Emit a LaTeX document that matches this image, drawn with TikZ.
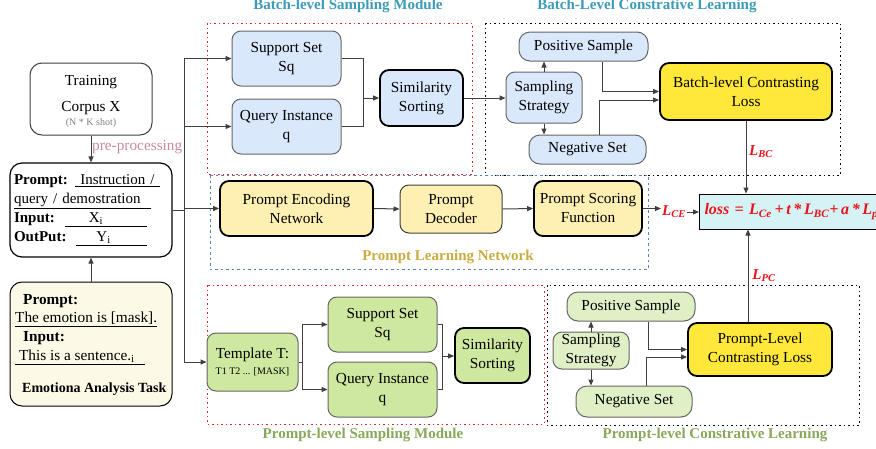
\documentclass[tikz,border=0pt]{standalone}
\usepackage{fontspec}
\setmainfont{Liberation Serif}
\usetikzlibrary{arrows.meta}
\definecolor{lnc}{HTML}{404040}
\definecolor{bordg}{HTML}{666666}
\definecolor{bluef}{HTML}{DAE8FC}
\definecolor{greenf}{HTML}{CFE8A0}
\definecolor{lgreenf}{HTML}{DFF0C6}
\definecolor{yelf}{HTML}{FFE83A}
\definecolor{pyelf}{HTML}{FDF0B2}
\definecolor{creamf}{HTML}{FDF9E7}
\definecolor{cyanf}{HTML}{D5F3F5}
\definecolor{lred}{HTML}{E8141C}
\definecolor{teal}{HTML}{3B9BB8}
\definecolor{gold}{HTML}{C9AD42}
\definecolor{olive}{HTML}{8AA85A}
\definecolor{pinkl}{HTML}{C98AA0}
\definecolor{dotred}{HTML}{E02828}
\definecolor{dotblue}{HTML}{5A82B8}
\begin{document}
\begin{tikzpicture}[x=1pt,y=-1pt,
  font=\fontsize{15.3}{19}\selectfont,
  ln/.style={draw=lnc, line width=1pt},
  arr/.style={ln, -{Triangle[length=6pt,width=5pt]}},
  bx/.style={draw=bordg, line width=1pt, rounded corners=9pt, align=center, inner sep=1pt},
  thk/.style={draw=black, line width=1.8pt},
  bluebox/.style={bx, fill=bluef},
  greenbox/.style={bx, fill=greenf},
  lgreenbox/.style={bx, fill=lgreenf},
  yelbox/.style={bx, fill=yelf, thk},
  pybox/.style={bx, fill=pyelf},
  redtitle/.style={text=lred, font=\fontsize{15}{17}\selectfont\bfseries\itshape},
  ttl/.style={font=\fontsize{15}{17}\selectfont\bfseries, anchor=base},
  reddot/.style={draw=dotred, line width=1pt, dash pattern=on 1.5pt off 3pt},
  blackdot/.style={draw=black, line width=1pt, dash pattern=on 1.5pt off 3pt},
  bluedot/.style={draw=dotblue, line width=1pt, dash pattern=on 2.5pt off 3pt},
  tx/.style={anchor=west, inner sep=0pt}
]
\useasboundingbox (0,0) rectangle (876,448);
\fill[white] (0,0) rectangle (876,448);

% group frames
\draw[reddot] (207,23) rectangle (472,174);
\draw[blackdot] (485,23) rectangle (840,175);
\draw[bluedot] (210,175) rectangle (648,269);
\draw[reddot] (207,285) rectangle (544,424);
\draw[blackdot] (547,285) rectangle (859,425);

% titles
\node[ttl, text=teal] (t1) at (348,9.5) {Batch-level Sampling Module};
\node[ttl, text=teal] (t2) at (647,9.5) {Batch-Level Constrative Learning};
\node[ttl, text=gold] (t3) at (448,260) {Prompt Learning Network};
\node[ttl, text=olive] (t4) at (363,438) {Prompt-level Sampling Module};
\node[ttl, text=olive] (t5) at (715,438) {Prompt-level Constrative Learning};

% left column
\node[draw=lnc, line width=1pt, fill=white, rounded corners=12pt, minimum width=122pt, minimum height=72pt] (train) at (91,99) {};
\node[inner sep=0pt] (tr1) at (91,82) {Training};
\node[inner sep=0pt] (tr2) at (91,108) {Corpus X};
\node[inner sep=0pt, text=gray, font=\fontsize{10}{11}\selectfont] (tr3) at (91,123) {(N * K shot)};
\node[draw=black, line width=1.2pt, rounded corners=12pt, minimum width=162pt, minimum height=94pt,
  text width=154pt, align=left, inner sep=4pt, font=\fontsize{15}{19}\selectfont] (prompt) at (91,210)
  {\textbf{Prompt:} \underline{\ Instruction /\ }\\
   \underline{query / demostration\ \ }\\
   \textbf{Input:}\ \ \underline{\hspace{24pt}X\textsubscript{i}\hspace{44pt}}\\
   \textbf{OutPut:}\ \ \underline{\hspace{20pt}Y\textsubscript{i}\hspace{36pt}}};
\node[draw=black, line width=1pt, fill=creamf, rounded corners=12pt, minimum width=162pt, minimum height=124pt] (emo) at (91,344) {};
\node[tx] (e1) at (23,301) {\bfseries Prompt:};
\node[tx] (e2) at (15,319) {\underline{The emotion is [mask].}};
\node[tx] (e3) at (23,338) {\bfseries Input:};
\node[tx] (e4) at (15,357) {\underline{\ This is a sentence.\textsubscript{i}\hspace{10pt}}};
\node[tx] (e5) at (22,389) {\fontsize{14}{16}\selectfont\bfseries Emotiona Analysis Task};
\node[tx, text=pinkl] (pp) at (92,147) {pre-processing};

\draw[arr] (train.south) -- (prompt.north);
\draw[arr] (emo.north) -- (prompt.south);

% batch-level sampling
\node[bluebox, minimum width=109pt, minimum height=55pt] (bss) at (286.5,58.5) {Support Set\\Sq};
\node[bluebox, minimum width=109pt, minimum height=55pt] (bqi) at (286.5,126.5) {Query Instance\\q};
\node[bluebox, thk, minimum width=83pt, minimum height=56pt] (bsim) at (421.5,98) {Similarity\\Sorting};

% batch-level contrastive
\node[bluebox, minimum width=129pt, minimum height=29pt, rounded corners=11pt] (bpos) at (583.5,46.5) {Positive Sample};
\node[bluebox, minimum width=76pt, minimum height=51pt] (bsamp) at (544,97.5) {Sampling\\Strategy};
\node[bluebox, minimum width=117pt, minimum height=29pt, rounded corners=11pt] (bneg) at (587.5,149.5) {Negative Set};
\node[yelbox, minimum width=172pt, minimum height=57pt] (bloss) at (746,91.5) {Batch-level Contrasting\\Loss};

% prompt learning network
\node[pybox, thk, minimum width=153pt, minimum height=55pt] (enc) at (296.5,208.5) {Prompt Encoding\\Network};
\node[pybox, draw=lnc, minimum width=102pt, minimum height=48pt] (dec) at (451,209) {Prompt\\Decoder};
\node[pybox, thk, minimum width=108pt, minimum height=55pt] (scor) at (588,208.5) {Prompt Scoring\\Function};
\node[redtitle, inner sep=1pt] (lce) at (674,212) {L\textsubscript{CE}};
\node[draw=black, line width=1pt, fill=cyanf, anchor=west, minimum height=35pt, text width=260pt, align=left,
  inner sep=5pt, text=lred, font=\fontsize{16}{18}\selectfont\bfseries\itshape] (loss) at (699,211.5)
  {loss = L\textsubscript{Ce}\,+\,t\,*\,L\textsubscript{BC}+\,a\,*\,L\textsubscript{pc}};

% prompt-level sampling
\node[greenbox, minimum width=91pt, minimum height=58pt] (tmpl) at (252.5,362)
  {Template T:\\[-3pt]{\fontsize{10}{12}\selectfont T1 T2 ... [MASK]}};
\node[greenbox, minimum width=109pt, minimum height=55pt] (psup) at (382.5,324.5) {Support Set\\Sq};
\node[greenbox, minimum width=109pt, minimum height=55pt] (pqi) at (382.5,389.5) {Query Instance\\q};
\node[greenbox, thk, minimum width=75pt, minimum height=55pt] (psim) at (492.5,355.5) {Similarity\\Sorting};

% prompt-level contrastive
\node[lgreenbox, minimum width=128pt, minimum height=29pt, rounded corners=11pt] (ppos) at (631,306.5) {Positive Sample};
\node[lgreenbox, minimum width=76pt, minimum height=37pt] (psamp) at (591,350.5) {Sampling\\Strategy};
\node[lgreenbox, minimum width=116pt, minimum height=31pt, rounded corners=11pt] (pneg) at (634,401.5) {Negative Set};
\node[yelbox, minimum width=144pt, minimum height=53pt] (ploss) at (760,349.5) {Prompt-Level\\Contrasting Loss};

% loss labels
\node[redtitle, inner sep=0pt] (lbc) at (761,152) {L\textsubscript{BC}};
\node[redtitle, inner sep=0pt] (lpc) at (764,276) {L\textsubscript{PC}};

% left fan-out
\coordinate (sp) at (184,210);
\coordinate (spt) at (184,58.5);
\coordinate (spb) at (184,362);
\draw[ln] (prompt.east) -- (sp);
\draw[ln] (spt) -- (spb);
\draw[arr] (spt) -- (bss.west);
\draw[arr] (sp |- bqi.west) -- (bqi.west);
\draw[arr] (sp |- enc.west) -- (enc.west);
\draw[arr] (spb) -- (tmpl.west);

% batch sampling connectors
\coordinate (bj) at (363,98);
\draw[ln] (bss.east) -| (bj);
\draw[ln] (bqi.east) -| (bj);
\draw[arr] (bj) -- (bsim.west);
\draw[arr] (bsim.east) -- (bsamp.west |- bsim.east);
\draw[arr] (bsamp.north) -- (bsamp.north |- bpos.south);
\draw[arr] (bsamp.south) -- (bsamp.south |- bneg.north);
\draw[arr] ([xshift=18.5pt]bpos.south) |- (bloss.west);
\draw[arr] ([xshift=11.5pt]bneg.north) |- ([yshift=-8.5pt]bloss.west);
\draw[arr] (bloss.south) -- (bloss.south |- loss.north);

% prompt network connectors
\draw[arr] (enc.east) -- (dec.west);
\draw[arr] (dec.east) -- (scor.west);
\draw[arr] (scor.east) -- (lce.west |- scor.east);
\draw[arr] (lce.east) -- (loss.west |- lce.east);

% prompt-level sampling connectors
\coordinate (tj) at (302,362);
\draw[ln] (tmpl.east) -- (tj);
\draw[arr] (tj) |- (psup.west);
\draw[arr] (tj) |- (pqi.west);
\coordinate (pj) at (442,356);
\draw[ln] (psup.east) -| (pj);
\draw[ln] (pqi.east) -| (pj);
\draw[arr] (pj) -- (psim.west |- pj);

% prompt-level contrastive connectors
\draw[arr] (psamp.north) -- (psamp.north |- ppos.south);
\draw[arr] (psamp.south) -- (psamp.south |- pneg.north);
\draw[arr] ([xshift=17pt]ppos.south) |- (ploss.west);
\draw[arr] ([xshift=12pt]pneg.north) |- ([yshift=-7.5pt]ploss.west);
\draw[arr] ([xshift=-12pt]ploss.north) -- ([xshift=-12pt]ploss.north |- loss.south);
\end{tikzpicture}
\end{document}
